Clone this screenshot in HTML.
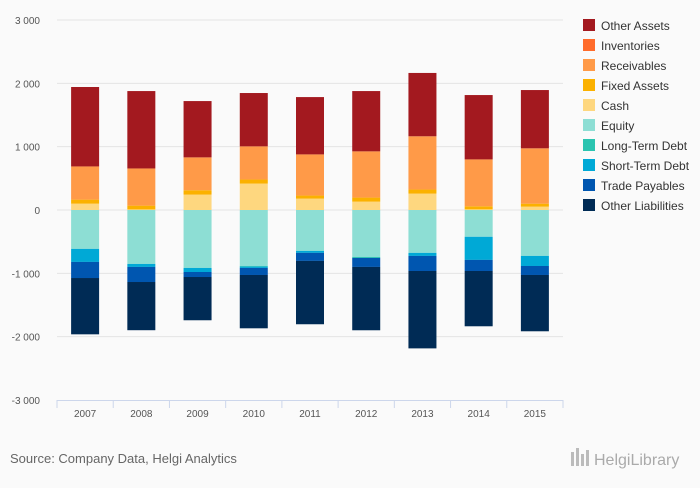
<!DOCTYPE html>
<html><head><meta charset="utf-8"><style>
body{margin:0;background:#fafafa;font-family:"Liberation Sans",sans-serif;}
svg text{font-family:"Liberation Sans",sans-serif;}
</style></head><body>
<svg width="700" height="483" id="chart">
<rect width="700" height="483" fill="#fafafa"/>
<g id="grid"></g><g id="bars"></g><g id="axes"></g><g id="legend"></g>
<text x="10" y="463" font-size="13" fill="#666">Source: Company Data, Helgi Analytics</text>
<g>
<rect x="571" y="452" width="3" height="14" fill="#bbb"/><rect x="576" y="448" width="3" height="18" fill="#bbb"/><rect x="581" y="454" width="3" height="12" fill="#bbb"/><rect x="586" y="450" width="3" height="16" fill="#bbb"/>
<text x="594" y="465" font-size="16" fill="#aaa" font-family="Liberation Serif">HelgiLibrary</text></g>
</svg>
<script>
const years=["2007","2008","2009","2010","2011","2012","2013","2014","2015"];
const seriesNames=["Other Assets","Inventories","Receivables","Fixed Assets","Cash","Equity","Long-Term Debt","Short-Term Debt","Trade Payables","Other Liabilities"];
const colors=["#a3191f","#ff6b2b","#ff9a48","#fbb100","#fed77f","#8dded4","#2bc4b0","#00a9d6","#0056b0","#002b55"];
const cash=[100,10,243,418,180,132,259,11,53];
const fixedAssets=[64,59,69,63,48,64,64,47,47];
const receivables=[524,587,519,524,650,730,841,741,874];
const inventories=[0,0,0,0,0,0,0,0,0];
const otherAssets=[1254,1222,889,842,905,952,1000,1016,920];
const equity=[-614,-852,-915,-884,-646,-741,-677,-423,-725];
const longTermDebt=[0,0,0,-10,0,-16,0,0,0];
const shortTermDebt=[-206,-47,-64,-21,-31,0,-48,-365,-159];
const tradePayables=[-254,-238,-79,-111,-127,-142,-238,-175,-142];
const otherLiabilities=[-889,-761,-683,-842,-1000,-1000,-1222,-873,-889];
const yTicks=[3000,2000,1000,0,-1000,-2000,-3000];
const yTickLabels=["3 000","2 000","1 000","0","-1 000","-2 000","-3 000"];
const NS="http://www.w3.org/2000/svg";
const x0=57,x1=563,yTop=20,yBot=400;
const bw=(x1-x0)/years.length;
const y=v=>yTop+(3000-v)/6000*(yBot-yTop);
const xc=i=>x0+bw*(i+0.5);
function mk(t,a,p){const e=document.createElementNS(NS,t);for(const k in a)e.setAttribute(k,a[k]);p.appendChild(e);return e;}
const grid=document.getElementById('grid'),axes=document.getElementById('axes'),bars=document.getElementById('bars'),leg=document.getElementById('legend');
yTicks.forEach((t,i)=>{
 if(t!==-3000){const l=mk('line',{x1:x0,x2:x1,y1:y(t),y2:y(t),stroke:'#e4e4e4'},grid);
 
 }
 const tx=mk('text',{x:40,y:y(t)+4,'text-anchor':'end','font-size':10,fill:'#555'},axes);tx.textContent=yTickLabels[i];
 
 
});
const al=mk('line',{x1:x0,x2:x1,y1:yBot+0.5,y2:yBot+0.5,stroke:'#ccd6eb'},axes);


for(let i=0;i<=years.length;i++){const tk=mk('line',{x1:x0+bw*i,x2:x0+bw*i,y1:yBot,y2:yBot+8,stroke:'#ccd6eb'},axes);
 
 }
years.forEach((yr,i)=>{const t=mk('text',{x:xc(i),y:yBot+17,'text-anchor':'middle','font-size':10,fill:'#555'},axes);t.textContent=yr;
 
 });
const pos=[[cash,4],[fixedAssets,3],[receivables,2],[inventories,1],[otherAssets,0]];
const neg=[[equity,5],[longTermDebt,6],[shortTermDebt,7],[tradePayables,8],[otherLiabilities,9]];
years.forEach((yr,i)=>{
 [pos,neg].forEach(stack=>{let base=0;stack.forEach(([arr,ci])=>{const v=arr[i];if(!v)return;const a=y(base),b=y(base+v);
  const r=mk('rect',{x:xc(i)-14,width:28,y:Math.min(a,b),height:Math.abs(b-a),fill:colors[ci]},bars);
  
  
  base+=v;});});
});
seriesNames.forEach((n,i)=>{const g=mk('g',{},leg);
 
 
 mk('rect',{x:583,y:19+i*20,width:12,height:12,fill:colors[i]},g);
 const t=mk('text',{x:601,y:30+i*20,'font-size':12,fill:'#333'},g);t.textContent=n;});
</script>
</body></html>
